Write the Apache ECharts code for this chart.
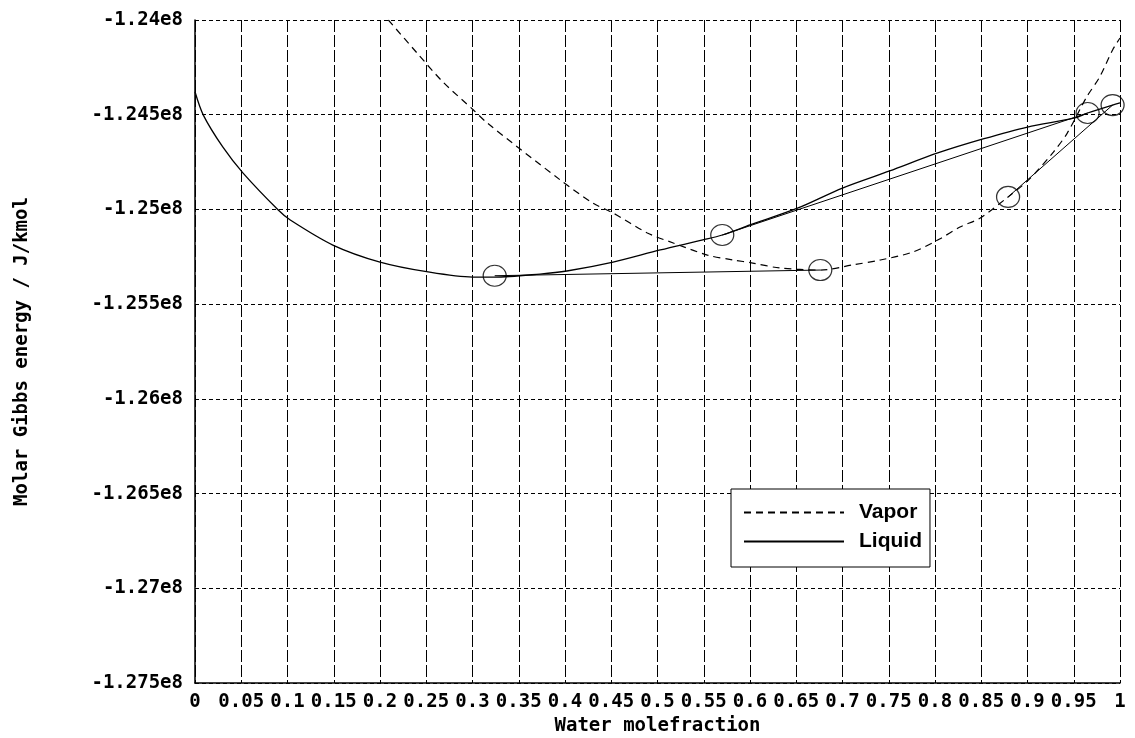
<!DOCTYPE html>
<html>
<head>
<meta charset="utf-8">
<script src="https://cdn.jsdelivr.net/npm/echarts@6/dist/echarts.min.js"></script>
<style>
  html, body { margin: 0; padding: 0; background: #fff; }
  #main { width: 1135px; height: 738px; }
</style>
</head>
<body>
<div id="main"></div>
<script>
// liquid curve, water molefraction vs molar Gibbs energy (J/kmol)
var liquidX = [0, 0.009, 0.030, 0.052, 0.090, 0.103, 0.149, 0.200, 0.252, 0.300, 0.324, 0.373,
  0.402, 0.452, 0.503, 0.549, 0.570, 0.600, 0.652, 0.700, 0.751, 0.803, 0.852, 0.900,
  0.951, 0.965, 0.992, 1.0];
var liquidG = [-124.379e6, -124.502e6, -124.670e6, -124.808e6, -125.003e6, -125.056e6, -125.188e6,
  -125.278e6, -125.330e6, -125.357e6, -125.357e6, -125.341e6, -125.325e6, -125.278e6,
  -125.214e6, -125.161e6, -125.135e6, -125.082e6, -124.992e6, -124.887e6, -124.797e6,
  -124.702e6, -124.628e6, -124.565e6, -124.517e6, -124.491e6, -124.449e6, -124.438e6];

// vapor curve
var vaporX = [0.209, 0.240, 0.268, 0.301, 0.316, 0.395, 0.430, 0.452, 0.489, 0.517, 0.554, 0.582,
  0.603, 0.632, 0.676, 0.711, 0.741, 0.776, 0.805, 0.827, 0.849, 0.879, 0.901, 0.928,
  0.943, 0.964, 0.978, 0.992, 1.0];
var vaporG = [-124.000e6, -124.174e6, -124.327e6, -124.475e6, -124.544e6, -124.845e6, -124.966e6,
  -125.019e6, -125.124e6, -125.177e6, -125.241e6, -125.267e6, -125.283e6, -125.309e6,
  -125.320e6, -125.293e6, -125.267e6, -125.225e6, -125.156e6, -125.093e6, -125.045e6,
  -124.934e6, -124.845e6, -124.697e6, -124.597e6, -124.406e6, -124.301e6, -124.158e6,
  -124.095e6];

// tie lines: [x1, g1, x2, g2]
var tieLines = [
  [0.324, -125.350e6, 0.676, -125.320e6],
  [0.570, -125.135e6, 0.965, -124.491e6],
  [0.879, -124.934e6, 0.992, -124.449e6]
];

var xTicks = { min: 0, max: 1, step: 0.05 };
var yTicks = { min: -1.275e8, max: -1.24e8, step: 5e5 };

var tieData = [];
var circleData = [];
tieLines.forEach(function (t) {
  tieData.push([t[0], t[1]], [t[2], t[3]], '-');
  circleData.push([t[0], t[1]], [t[2], t[3]]);
});

function zip(xs, ys) {
  return xs.map(function (x, i) { return [x, ys[i]]; });
}

var monoFont = '"DejaVu Sans Mono", monospace';

var myChart = echarts.init(document.getElementById('main'));
var option = {
  backgroundColor: '#fff',
  animation: false,
  grid: { left: 195, right: 15, top: 20, bottom: 55, outerBoundsMode: 'none' },
  legend: {
    data: ['Vapor', 'Liquid'],
    orient: 'vertical',
    left: 731,
    top: 489,
    padding: [13, 8, 15, 12],
    itemWidth: 100,
    itemHeight: 14,
    itemGap: 8,
    borderColor: '#000',
    borderWidth: 1,
    backgroundColor: '#fff',
    itemStyle: { opacity: 0 },
    textStyle: {
      color: '#000',
      fontFamily: '"Liberation Sans", Arial, sans-serif',
      fontWeight: 'bold',
      fontSize: 21,
      padding: [0, 0, 0, 10]
    }
  },
  xAxis: {
    type: 'value',
    min: xTicks.min,
    max: xTicks.max,
    interval: xTicks.step,
    name: 'Water molefraction',
    nameLocation: 'middle',
    nameGap: 34,
    nameTextStyle: { color: '#000', fontFamily: monoFont, fontWeight: 'bold', fontSize: 19 },
    axisLine: { onZero: false, lineStyle: { color: '#000', width: 1.5 } },
    axisTick: { show: false },
    axisLabel: {
      color: '#000',
      fontFamily: monoFont,
      fontWeight: 'bold',
      fontSize: 19,
      margin: 10,
      formatter: function (v) { return String(parseFloat(v.toFixed(2))); }
    },
    splitLine: { show: true, lineStyle: { color: '#000', width: 1, type: [12, 3] } }
  },
  yAxis: {
    type: 'value',
    min: yTicks.min,
    max: yTicks.max,
    interval: yTicks.step,
    name: 'Molar Gibbs energy / J/kmol',
    nameLocation: 'middle',
    nameGap: 163,
    nameTextStyle: { color: '#000', fontFamily: monoFont, fontWeight: 'bold', fontSize: 19 },
    axisLine: { onZero: false, lineStyle: { color: '#000', width: 1.5 } },
    axisTick: { show: false },
    axisLabel: {
      color: '#000',
      fontFamily: monoFont,
      fontWeight: 'bold',
      fontSize: 19,
      margin: 12,
      formatter: function (v) { return parseFloat((v / 1e8).toFixed(4)) + 'e8'; }
    },
    splitLine: { show: true, lineStyle: { color: '#000', width: 1, type: [4, 3] } }
  },
  series: [
    {
      name: 'Vapor',
      type: 'line',
      symbol: 'none',
      smooth: 0.3,
      data: zip(vaporX, vaporG),
      lineStyle: { color: '#000', width: 1.2, type: [7, 5] },
      itemStyle: { color: '#000' },
      z: 3
    },
    {
      name: 'Liquid',
      type: 'line',
      symbol: 'none',
      smooth: 0.3,
      data: zip(liquidX, liquidG),
      lineStyle: { color: '#000', width: 1.3 },
      itemStyle: { color: '#000' },
      z: 3
    },
    {
      name: 'tie',
      type: 'line',
      symbol: 'none',
      connectNulls: false,
      data: tieData,
      lineStyle: { color: '#000', width: 1 },
      z: 3
    },
    {
      name: 'points',
      type: 'scatter',
      symbol: 'circle',
      symbolSize: [23, 21],
      data: circleData,
      itemStyle: { color: 'rgba(0,0,0,0)', borderColor: '#000', borderWidth: 1.2 },
      z: 4
    }
  ]
};

myChart.setOption(option);
</script>
</body>
</html>
